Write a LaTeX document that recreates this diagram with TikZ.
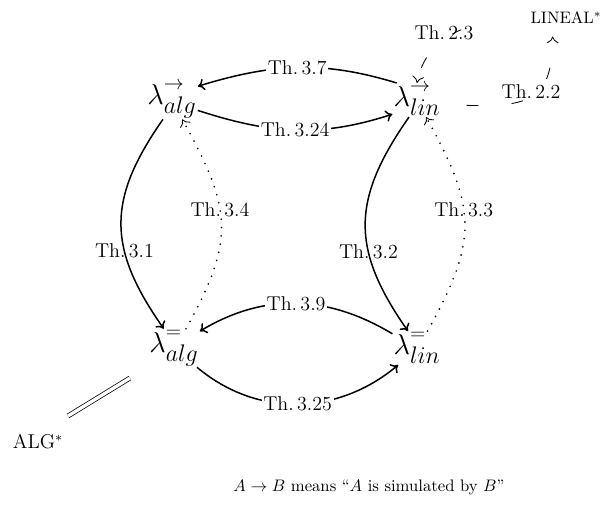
\documentclass[tikz,border=0pt]{standalone}
\usetikzlibrary{arrows.meta}
\newcommand{\lamb}[2]{$\lambda^{\raisebox{3pt}{$\scriptstyle#1$}}_{\mbox{\Large$#2$}}$}
\begin{document}
\begin{tikzpicture}[x=0.6pt,y=0.6pt,
  lam/.style={inner sep=0.5pt,font=\LARGE},
  lab/.style={inner sep=1pt,font=\large},
  labf/.style={lab,fill=white},
  arr/.style={-{To[length=4pt,width=7pt]},line width=0.9pt},
  dotarr/.style={-{To[length=4pt,width=7pt,line width=0.5pt]},line width=1.1pt,dash pattern=on 0pt off 5pt,line cap=round},
  dsharr/.style={-{To[length=4pt,width=7pt,line width=0.5pt]},line width=0.5pt},
  dbl/.style={double,double distance=2pt,line width=0.45pt}]
\useasboundingbox (0,0) rectangle (604,510);
\node[lam] (aa) at (172,410) {\lamb{\rightarrow}{alg}};
\node[lam] (la) at (417,410) {\lamb{\rightarrow}{lin}};
\node[lam] (ae) at (174,162) {\lamb{=}{alg}};
\node[lam] (le) at (417,162) {\lamb{=}{lin}};
\node[font=\large] (ALG) at (38,68) {ALG$^*$};
\node (LIN) at (566,492) {LINEAL$^*$};
\node (cap) at (369,23) {$A\rightarrow B$ means ``$A$ is simulated by $B$''};
% horizontal connectors
\draw[arr] (la.140) to[out=163,in=17] node[labf]{Th.\,3.7} (aa.28);
\draw[arr] (aa.-22) to[out=-18,in=198] node[labf]{Th.\,3.24} (la.210);
\draw[arr] (le.150) to[out=149,in=31] node[labf]{Th.\,3.9} (ae.33);
\draw[arr] (ae.-40) to[out=-40,in=220] node[labf]{Th.\,3.25} (le.222);
% vertical connectors
\draw[arr] (aa.245) to[out=235,in=125,looseness=1.2] node[lab,pos=0.64]{Th.\,3.1} (ae.118);
\draw[arr] (la.245) to[out=235,in=125,looseness=1.2] node[lab,pos=0.64]{Th.\,3.2} (le.118);
\draw[dotarr] (ae.58) to[out=61,in=-61,looseness=1.25] node[lab,pos=0.58]{Th.\,3.4} (aa.-62);
\draw[dotarr] (le.58) to[out=61,in=-61,looseness=1.25] node[lab,pos=0.58]{Th.\,3.3} (la.-62);
% dashed connectors
\draw[dsharr,dash pattern=on 0pt off 39pt on 6pt off 21pt on 7pt off 60pt] (LIN.west) to[out=180,in=80] node[lab,pos=0.5,xshift=-7pt]{Th.\,2.3} (la.north);
\draw[dsharr,dash pattern=on 7pt off 20pt,dash phase=12pt] (la.-12) to[out=0,in=270,looseness=1.5] node[lab,pos=0.55,yshift=3pt]{Th.\,2.2} ([xshift=-8,yshift=-4]LIN.south);
% double line
\draw[dbl] ([shift={(-44,-30)}]ae.center) -- ([shift={(30,26)}]ALG.center);
\end{tikzpicture}
\end{document}
